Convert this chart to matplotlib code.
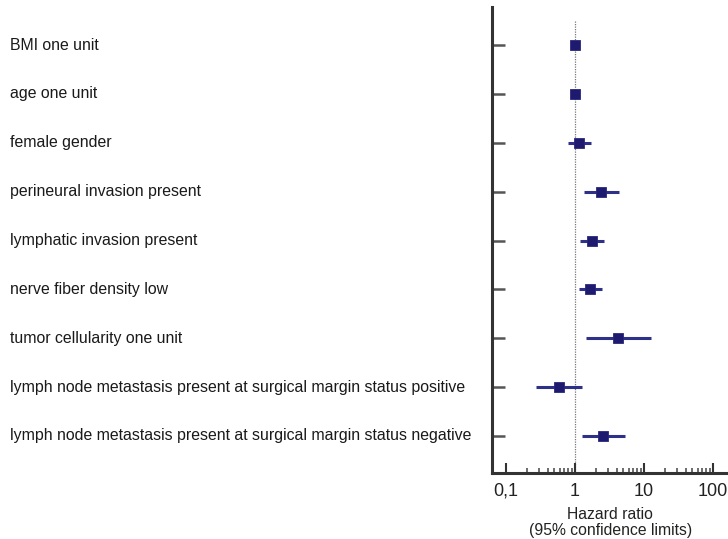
import matplotlib.pyplot as plt
import matplotlib.transforms as mtransforms
from matplotlib.ticker import FixedLocator, NullFormatter
import numpy as np

plt.rcParams['font.family'] = ['Liberation Sans', 'DejaVu Sans']

labels = [
    'BMI one unit',
    'age one unit',
    'female gender',
    'perineural invasion present',
    'lymphatic invasion present',
    'nerve fiber density low',
    'tumor cellularity one unit',
    'lymph node metastasis present at surgical margin status positive',
    'lymph node metastasis present at surgical margin status negative',
]
hr = [0.99, 1.0, 1.14, 2.36, 1.78, 1.67, 4.24, 0.58, 2.57]
ci_low = [0.97, 0.98, 0.79, 1.34, 1.17, 1.14, 1.44, 0.27, 1.25]
ci_high = [1.02, 1.02, 1.71, 4.30, 2.63, 2.46, 12.6, 1.25, 5.36]

major_ticks = [0.1, 1, 10, 100]
major_labels = ['0,1', '1', '10', '100']

fig = plt.figure(figsize=(7.28, 5.39), dpi=100)
ax = fig.add_axes([0.676, 0.1224, 0.324, 0.8646])

y = np.arange(len(labels))
navy = '#1e1a6e'
ax.hlines(y, ci_low, ci_high, color='#2e3188', lw=2.2, zorder=2)
ax.plot(hr, y, 's', ms=7.5, color=navy, mec='#2a2680', mew=0.6, zorder=3)
ax.vlines(1, -0.5, 8.76, color='#777777', lw=0.9, linestyles=(0, (1, 1)), zorder=1)

ax.set_xscale('log')
ax.set_xlim(0.063, 165)
ax.set_ylim(8.76, -0.78)

ax.xaxis.set_major_locator(FixedLocator(major_ticks))
ax.set_xticklabels(major_labels, fontsize=13, color='#222222')
minors = [m * d for d in [0.1, 1, 10] for m in range(2, 10)]
ax.xaxis.set_minor_locator(FixedLocator(minors))
ax.xaxis.set_minor_formatter(NullFormatter())
ax.tick_params(axis='x', which='major', direction='in', length=7.2, width=1.5,
               color='#333333', pad=7)
ax.tick_params(axis='x', which='minor', direction='in', length=3.6, width=1.1,
               color='#444444')

ax.set_yticks(y)
ax.set_yticklabels([])
ax.tick_params(axis='y', direction='in', length=9.4, width=1.8, color='#555555')

for s in ['top', 'right']:
    ax.spines[s].set_visible(False)
for s in ['left', 'bottom']:
    ax.spines[s].set_linewidth(2.2)
    ax.spines[s].set_color('#333333')

ax.set_xlabel('Hazard ratio\n(95% confidence limits)', fontsize=11.3, color='#222222',
              labelpad=5, linespacing=1.15)

trans = mtransforms.blended_transform_factory(fig.transFigure, ax.transData)
for yi, lab in zip(y, labels):
    ax.text(10 / 728, yi, lab, transform=trans, ha='left', va='center',
            fontsize=11.4, color='#1a1a1a', clip_on=False)

fig.savefig('out.png', dpi=100)
